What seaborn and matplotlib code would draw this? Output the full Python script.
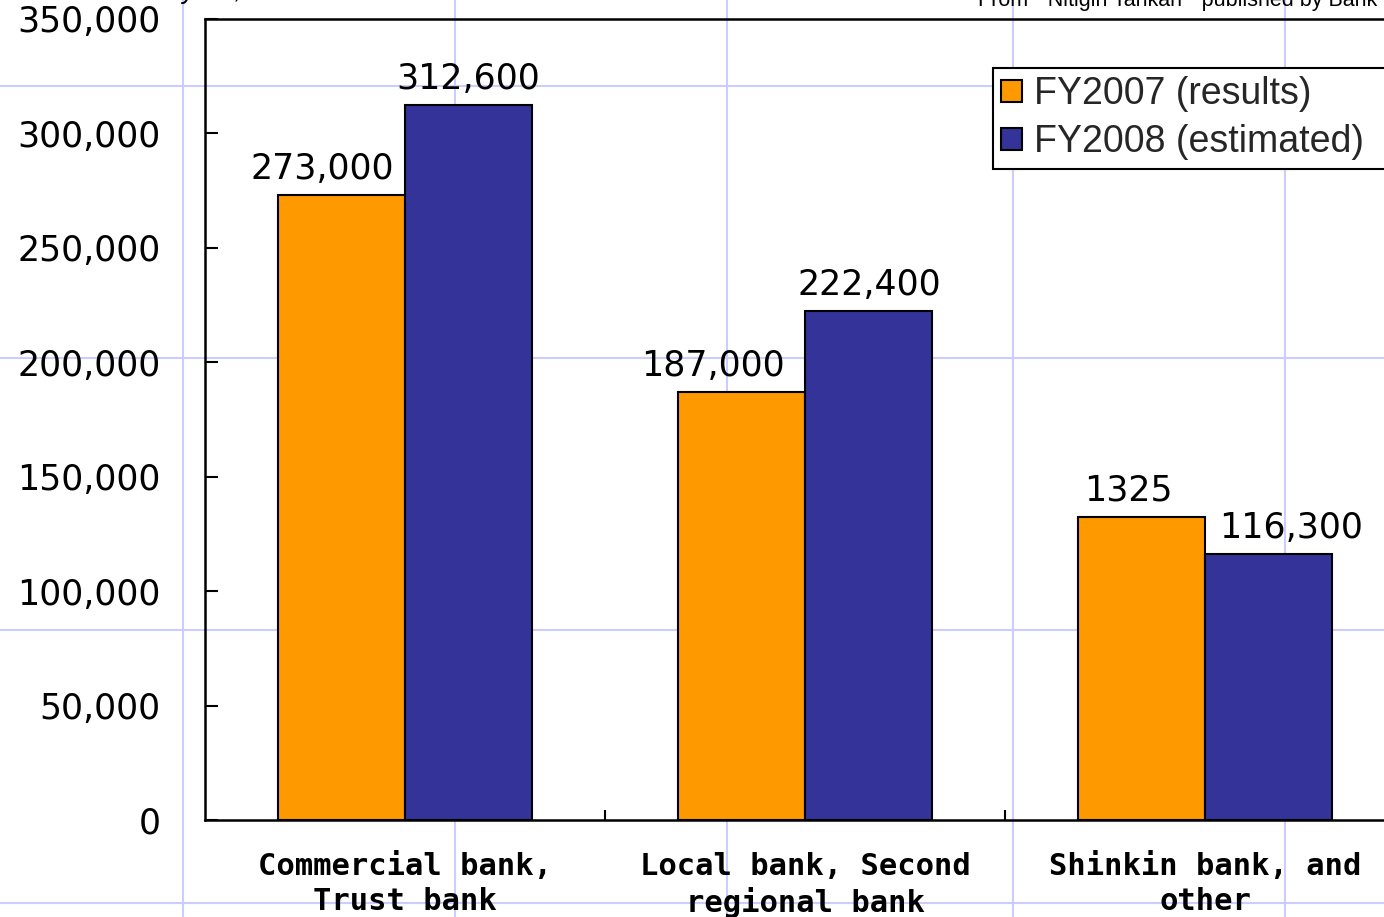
import matplotlib
matplotlib.use("Agg")
import matplotlib.pyplot as plt
from matplotlib.lines import Line2D
from matplotlib.ticker import FuncFormatter
import seaborn as sns
import pandas as pd

# ---- data -------------------------------------------------------------
categories = [
    "Commercial bank,\nTrust bank",
    "Local bank, Second\nregional bank",
    "Shinkin bank, and\nother",
]
series = ["FY2007 (results)", "FY2008 (estimated)"]
fy2007 = [273000, 187000, 132500]
fy2008 = [312600, 222400, 116300]
labels_fy2007 = ["273,000", "187,000", "1325"]
labels_fy2008 = ["312,600", "222,400", "116,300"]
y_ticks = [0, 50000, 100000, 150000, 200000, 250000, 300000, 350000]
source_note = 'From  "Nitigin Tankan"  published by Bank of Japan'

colors = ["#FF9900", "#333399"]

df = pd.DataFrame({
    "category": categories * 2,
    "series": [series[0]] * len(categories) + [series[1]] * len(categories),
    "value": fy2007 + fy2008,
})

# ---- style ------------------------------------------------------------
sns.set_theme(style="white")
plt.rcParams["font.family"] = ["DejaVu Sans", "Noto Sans CJK JP"]

W, H = 1384, 917
fig = plt.figure(figsize=(W / 100, H / 100), dpi=100)
fig.patch.set_facecolor("white")

# light guide grid behind the whole figure
guide = "#CCCCFF"
for gx in [183, 455, 727, 1013, 1285]:
    fig.add_artist(Line2D([gx / W, gx / W], [0, 1], transform=fig.transFigure,
                          color=guide, lw=1.5, zorder=-10))
for gy in [86, 358, 630, 903]:
    fig.add_artist(Line2D([0, 1], [1 - gy / H, 1 - gy / H], transform=fig.transFigure,
                          color=guide, lw=1.5, zorder=-10))

ax = fig.add_axes([205 / W, (H - 820) / H, 1200 / W, 801 / H])
ax.set_facecolor("none")

sns.barplot(data=df, x="category", y="value", hue="series", order=categories,
            hue_order=series, palette=colors, width=0.635, saturation=1,
            edgecolor="black", linewidth=1.5, ax=ax)

ax.set_xlim(-0.5, 2.5)
ax.set_ylim(0, 350000)
ax.set_xlabel("")
ax.set_ylabel("")

for side in ["left", "right", "top", "bottom"]:
    ax.spines[side].set_visible(True)
    ax.spines[side].set_color("black")
    ax.spines[side].set_linewidth(1.8)

# y axis
ax.set_yticks(y_ticks)
ax.yaxis.set_major_formatter(FuncFormatter(lambda v, p: f"{int(v):,}"))
ax.tick_params(axis="y", which="major", direction="in", length=9.5, width=1.5,
               pad=32, labelsize=25, colors="black", left=True)

# x axis: category labels centred, separator ticks between groups
ax.set_xticks(range(len(categories)))
ax.set_xticklabels(categories, fontfamily="DejaVu Sans Mono", fontsize=22,
                   fontweight="bold", linespacing=1.25)
ax.tick_params(axis="x", which="major", length=0, pad=23, colors="black")
ax.set_xticks([0.5, 1.5], minor=True)
ax.tick_params(axis="x", which="minor", direction="in", length=7.5, width=1.5,
               bottom=True, colors="black")

# value labels
shift_2007 = [-19, -29, -13]
shift_2008 = [0, 1, 23]
for container, texts, shifts in [(ax.containers[0], labels_fy2007, shift_2007),
                                 (ax.containers[1], labels_fy2008, shift_2008)]:
    for bar, txt, dx in zip(container, texts, shifts):
        cx = bar.get_x() + bar.get_width() / 2
        ax.annotate(txt, xy=(cx, bar.get_height()), xytext=(dx * 0.72, 11.5),
                    textcoords="offset points", ha="center", va="baseline",
                    fontsize=25, color="black")

# legend, its box running past the right edge
handles, lbls = ax.get_legend_handles_labels()
for h in handles:
    h.set_edgecolor("black")
    h.set_linewidth(1.5)
leg_x0, leg_top, leg_w = 993 / W, 1 - 68 / H, 420 / W
leg = ax.legend(handles, lbls, loc="upper left", mode="expand",
                bbox_to_anchor=(leg_x0, leg_top - 0.1, leg_w, 0.1),
                bbox_transform=fig.transFigure,
                borderaxespad=0, frameon=True, fancybox=False, framealpha=1,
                edgecolor="black", facecolor="white",
                prop={"family": "Liberation Sans", "size": 27},
                handlelength=0.56, handleheight=0.56, handletextpad=0.32,
                borderpad=0.22, labelspacing=0.32)
leg.get_frame().set_linewidth(1.5)

# notes along the top edge
fig.text(978 / W, 1 - 6 / H, source_note, ha="left", va="baseline",
         fontsize=15.5, family=["Liberation Sans"], color="black")
fig.text(240 / W, 1 + 2 / H, "Fiscal year,", ha="right", va="baseline",
         fontsize=20, family=["Liberation Sans"], color="black")

fig.savefig("out.png", dpi=100)
